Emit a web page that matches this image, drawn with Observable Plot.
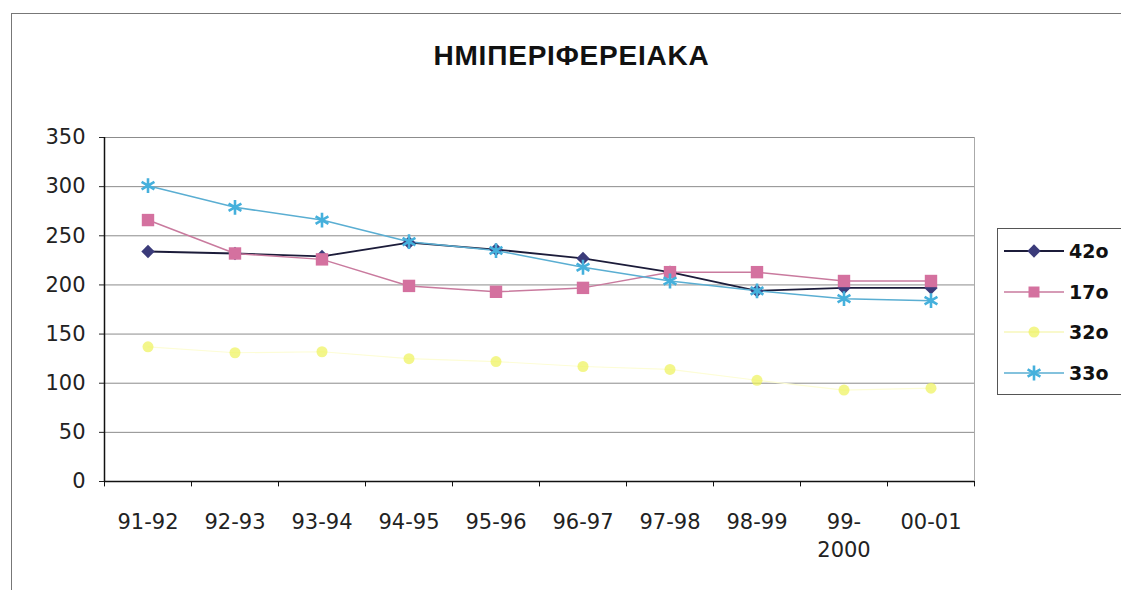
<!DOCTYPE html>
<html><head><meta charset="utf-8">
<script src="https://cdn.jsdelivr.net/npm/d3@7"></script>
<script src="https://cdn.jsdelivr.net/npm/@observablehq/plot@0.6"></script>
<style>
body{margin:0;background:#fff;}
#wrap{position:relative;width:1121px;height:593px;overflow:hidden;background:#fff;font-family:"DejaVu Sans",sans-serif;color:#111;}
#frame{position:absolute;left:11px;top:13px;width:1120px;height:576px;border-left:1.5px solid #777;border-top:1.5px solid #777;}
#title{position:absolute;left:0;width:1143px;top:40px;text-align:center;font-weight:bold;font-size:28px;font-family:"Liberation Sans",Arial,sans-serif;letter-spacing:0.8px;}
#chart{position:absolute;left:0;top:0;}
#legend{position:absolute;left:997px;top:228px;width:140px;height:165px;border:1.5px solid #555;background:#fff;}
.row{position:absolute;left:0;height:24px;display:flex;align-items:center;}
.row span{font-weight:bold;font-size:19px;margin-left:4px;}
</style></head><body>
<div id="wrap"><div id="frame"></div><div id="chart"></div><div id="title">ΗΜΙΠΕΡΙΦΕΡΕΙΑΚΑ</div><div id="legend"></div></div>
<script>
const categories = ["91-92","92-93","93-94","94-95","95-96","96-97","97-98","98-99","99-2000","00-01"];
const seriesNames = ["42o","17o","32o","33o"];
const series42 = [234, 232, 229, 243, 236, 227, 213, 194, 197, 197];
const series17 = [266, 232, 226, 199, 193, 197, 213, 213, 204, 204];
const series32 = [137, 131, 132, 125, 122, 117, 114, 103, 93, 95];
const series33 = [301, 279, 266, 244, 235, 218, 204, 194, 186, 184];
const yTicks = [0, 50, 100, 150, 200, 250, 300, 350];

const styles = {
  "42o": {line: "#1c1c3a", lineWidth: 1.8, fill: "#3b3b7a", stroke: "none", symbol: "diamond2", r: 6, opacity: 1},
  "17o": {line: "#c97a9e", lineWidth: 1.5, fill: "#d4719f", stroke: "none", symbol: "square", r: 7, opacity: 1},
  "32o": {line: "#fdfdd6", lineWidth: 1.2, fill: "#eef25a", stroke: "none", symbol: "circle", r: 5.5, opacity: 0.7},
  "33o": {line: "#5aaed2", lineWidth: 1.5, fill: "none", stroke: "#45b0dc", symbol: "asterisk", r: 7, opacity: 1}
};
const allValues = [series42, series17, series32, series33];
const rows = [];
seriesNames.forEach((name, k) => allValues[k].forEach((v, i) => rows.push({series: name, i, cat: categories[i], v})));
const n = categories.length;

const marks = [
  Plot.ruleY(yTicks.filter(d => d > 0), {y: d => d, stroke: "#8c8c8c", strokeWidth: 1}),
  Plot.ruleX([n - 0.5], {x: d => d, stroke: "#aaa", strokeWidth: 1}),
  Plot.ruleX([-0.5], {x: d => d, stroke: "#111", strokeWidth: 1.5}),
  Plot.ruleY([0], {y: d => d, stroke: "#111", strokeWidth: 1.5}),
  Plot.ruleX(d3.range(n + 1).map(i => i - 0.5), {x: d => d, y1: 0, y2: -5.5, stroke: "#111", strokeWidth: 1}),
  Plot.text(categories, {x: (d, i) => i, y: 0, text: d => d.replace("-2000", "-\n2000"), dy: 28, lineAnchor: "top", lineHeight: 1.32, fontSize: 21, fill: "#222"})
];
for (const name of seriesNames) {
  const s = styles[name];
  const data = rows.filter(r => r.series === name);
  marks.push(Plot.line(data, {x: "i", y: "v", stroke: s.line, strokeWidth: s.lineWidth}));
}
for (const name of seriesNames) {
  const s = styles[name];
  const data = rows.filter(r => r.series === name);
  marks.push(Plot.dot(data, {x: "i", y: "v", symbol: () => s.symbol, r: s.r, fill: s.fill, stroke: s.stroke, strokeWidth: 2.6, fillOpacity: s.opacity}));
}

const chart = Plot.plot({
  width: 1121, height: 593,
  marginLeft: 104, marginRight: 147, marginTop: 137, marginBottom: 112,
  x: {domain: [-0.5, n - 0.5], axis: null},
  y: {domain: [0, 350], ticks: yTicks, tickSize: 5, tickPadding: 14, label: null, tickFormat: d => String(d)},
  style: {fontFamily: "DejaVu Sans", fontSize: "21px", color: "#222", background: "transparent", overflow: "visible"},
  marks
});
document.getElementById("chart").appendChild(chart);
d3.select(chart).selectAll("text").attr("font-size", null).style("font-size", "21px");

// legend
const legend = d3.select("#legend");
seriesNames.forEach((name, k) => {
  const s = styles[name];
  const row = legend.append("div").attr("class", "row").style("top", (10 + k * 40.5) + "px").style("left", "5px");
  const svg = row.append("svg").attr("width", 62).attr("height", 24);
  svg.append("line").attr("x1", 1).attr("x2", 61).attr("y1", 12).attr("y2", 12).attr("stroke", name === "32o" ? "#f3f39a" : s.line).attr("stroke-width", s.lineWidth);
  const symMap = {diamond2: d3.symbolDiamond2, square: d3.symbolSquare2, circle: d3.symbolCircle, asterisk: d3.symbolAsterisk};
  const size = Math.PI * s.r * s.r;
  svg.append("path").attr("transform", "translate(31,12)").attr("d", d3.symbol(symMap[s.symbol], size)())
    .attr("fill", s.fill).attr("stroke", s.stroke).attr("stroke-width", 2.6).attr("fill-opacity", s.opacity);
  row.append("span").text(name);
});
</script>
</body></html>
